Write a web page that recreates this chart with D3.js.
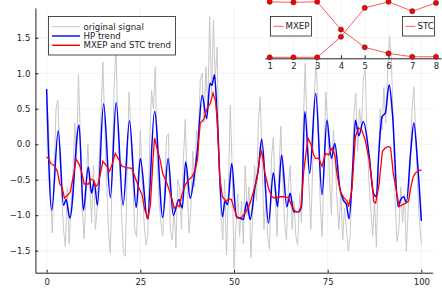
<!DOCTYPE html>
<html>
<head>
<meta charset="utf-8">
<script src="https://cdn.jsdelivr.net/npm/d3@7"></script>
<style>
  body { margin: 0; background: #fff; }
  text { font-family: "DejaVu Sans", sans-serif; }
</style>
</head>
<body>
<script>
// original signal, one value every 0.5 from 0 to 100
let signal = [
  0.6, 0.3, -0.6, -1.25, -0.5, 0.5, 0.62, -0.1, -0.7, -1.2,
  -1.44, -0.6, -1.4, -0.9, -0.4, 0.3, -0.2, 0.98, 0.1, -0.9,
  -1.33, -0.7, 0.0, -0.6, -1.1, -0.3, -1.2, -0.9, -0.2, 0.4,
  1.16, 0.3, -0.5, -1.2, -1.54, -0.4, 0.8, 1.42, 0.2, -0.3,
  -1.0, -1.54, -1.58, -0.3, 0.74, 0.1, -0.5, -1.2, -1.3, -0.6,
  0.2, -0.5, -1.1, -1.42, -1.3, 0.0, 0.76, 0.5, 1.09, -0.2,
  -0.8, -1.1, -1.29, -0.6, 0.1, 0.15, -1.2, -1.35, -0.9, -1.46,
  -0.5, -0.6, -1.2, -0.2, 0.35, -0.6, -1.25, -0.9, -0.1, -0.6,
  0.2, 0.1, 0.9, 1.0, 0.3, 1.09, 0.5, 1.8, 0.7, 1.75,
  0.9, 1.37, -0.3, -1.0, -1.35, -0.5, -1.56, -0.7, 0.55, -0.3,
  -1.75, -1.2, -0.7, -1.3, -0.8, -1.4, -0.3, -1.0, -0.6, -1.6,
  -1.0, -0.3, -0.8, 0.3, 0.67, -0.2, -1.2, -0.8, -1.3, -1.48,
  -0.2, 0.1, -0.7, -1.3, -0.4, 0.25, -0.5, -1.1, -1.35, -0.6,
  -0.3, -1.2, -0.8, -1.3, -1.42, -0.7, -1.1, 0.3, 1.14, 0.2,
  -0.6, -1.2, -0.3, 0.8, 1.19, 0.2, -0.8, -1.3, -0.4, 0.74,
  0.3, -0.5, -1.0, 0.2, -0.2, -0.8, -1.2, -0.7, -1.35, -0.9,
  -1.2, -1.51, -1.3, -0.5, 0.4, 0.72, -0.1, 0.5, 0.2, 0.9,
  1.05, 0.1, -0.5, -0.9, -1.3, -0.8, -1.45, -0.4, 0.5, 0.2,
  0.8, 0.3, 1.0, 1.52, 1.19, 0.3, -0.8, -1.37, -1.2, -0.6,
  -1.1, -0.7, -1.51, -0.9, -0.3, 0.5, 0.81, 0.1, -0.6, -1.1,
  -1.4
];
let signalStep = 0.5;

// HP trend, read at its turning points
let hpTrend = [
  [0, 0.78], [1.35, -0.93], [3.1, 0.19], [4.5, -0.86], [5.2, -0.78], [6.2, -1.04],
  [8.65, 0.27], [9.8, -0.93], [11.1, -0.32], [12.0, -0.69], [12.7, -0.52], [13.55, -0.86],
  [15.2, 0.57], [17.0, -0.75], [18.55, 0.59], [20.4, -0.86], [22.1, 0.33], [23.9, -0.89],
  [25.0, -0.2], [26.9, -1.05], [28.8, 0.46], [31.0, -1.03], [32.4, -0.2], [33.8, -1.0],
  [35.3, -0.78], [36.2, -0.9], [37.1, -0.25], [38.3, -0.76], [39.5, -0.4], [40.2, -0.1],
  [41.5, 0.69], [42.7, 0.36], [43.6, 0.86], [44.1, 0.83], [44.8, 0.98], [45.5, 0.4],
  [46.9, -1.02], [47.6, -0.8], [48.3, -0.85], [49.4, -0.27], [50.6, -1.02], [51.6, -1.04],
  [52.5, -1.06], [53.4, -0.81], [54.3, -1.06], [55.6, -0.6], [56.5, -0.35], [57.4, 0.07],
  [59.2, -1.11], [60.5, -0.4], [61.6, -0.88], [62.7, -0.15], [64.1, -0.88], [65.0, -0.69],
  [65.9, -0.95], [67.2, -0.95], [68.0, -0.88], [68.9, 0.46], [70.2, -0.41], [71.8, 0.72],
  [73.5, -0.71], [74.8, 0.34], [76.0, -0.2], [76.9, 0.01], [78.2, -0.6], [79.1, -0.78],
  [80.0, -0.85], [80.7, -1.05], [81.8, -0.22], [82.4, 0.34], [83.3, 0.12], [84.5, 0.32],
  [86.1, -0.17], [87.2, -0.69], [88.0, -0.74], [88.6, -0.17], [89.5, 0.39], [90.4, 0.44],
  [91.4, 0.84], [92.3, 0.42], [93.8, -0.88], [94.5, -0.78], [95.3, -0.74], [96.0, -0.82],
  [97.2, -0.08], [98.0, 0.3], [99.0, -0.27], [100, -1.08]
];

// MXEP and STC trend
let mixTrend = [
  [0, -0.18], [0.5, -0.2], [1.1, -0.27], [2.2, -0.31], [2.9, -0.39], [3.5, -0.56],
  [4.1, -0.6], [4.75, -0.76], [5.6, -0.72], [6.3, -0.67], [7.3, -0.4], [7.85, -0.21],
  [8.75, -0.29], [9.35, -0.39], [10.0, -0.56], [11.15, -0.56], [11.8, -0.49], [12.5, -0.51],
  [13.1, -0.6], [13.8, -0.55], [14.4, -0.4], [15.0, -0.24], [16.1, -0.31], [16.8, -0.38],
  [17.5, -0.28], [18.3, -0.13], [19.2, -0.21], [20.1, -0.31], [21.4, -0.33], [22.75, -0.34],
  [23.7, -0.48], [24.6, -0.61], [25.5, -0.72], [26.2, -0.93], [27.1, -1.04], [27.7, -0.85],
  [28.4, -0.2], [28.8, 0.09], [29.4, -0.05], [30.2, -0.2], [31.0, -0.42], [31.9, -0.52],
  [32.8, -0.66], [33.6, -0.8], [34.0, -0.9], [34.8, -0.86], [35.4, -0.88], [36.1, -0.71],
  [37.0, -0.57], [37.9, -0.5], [38.8, -0.46], [39.7, -0.36], [40.3, -0.2], [40.6, 0.06],
  [41.0, 0.3], [41.9, 0.35], [42.8, 0.5], [43.7, 0.58], [44.4, 0.72], [45.1, 0.6],
  [45.5, 0.34], [46.2, -0.46], [46.9, -0.74], [47.8, -0.8], [48.7, -0.77], [49.3, -0.78],
  [50.0, -0.9], [50.9, -1.04], [52.0, -1.03], [53.2, -0.95], [54.3, -0.83], [55.2, -0.67],
  [56.1, -0.5], [57.0, -0.15], [57.4, -0.1], [58.2, -0.39], [59.2, -0.62], [60.1, -0.74],
  [61.0, -0.76], [62.3, -0.74], [63.7, -0.74], [64.6, -0.76], [65.5, -0.88], [66.4, -0.95],
  [67.3, -0.95], [67.9, -0.88], [68.6, -0.39], [69.5, -0.01], [69.8, 0.08], [70.5, 0.0],
  [71.3, -0.15], [71.7, -0.2], [72.6, -0.2], [73.5, -0.31], [74.4, -0.13], [75.3, -0.15],
  [76.2, -0.05], [76.9, -0.15], [77.5, -0.43], [78.4, -0.67], [79.4, -0.76], [80.2, -0.8],
  [80.6, -0.88], [81.5, -0.62], [82.4, 0.11], [83.3, 0.23], [84.1, 0.2], [85.0, 0.06],
  [86.0, -0.2], [86.9, -0.57], [87.3, -0.81], [87.8, -0.83], [88.7, -0.57], [89.6, -0.1],
  [90.4, -0.05], [91.3, -0.03], [91.8, -0.05], [92.5, -0.41], [93.3, -0.64], [94.1, -0.88],
  [95.0, -0.85], [95.9, -0.83], [96.6, -0.8], [97.2, -0.6], [97.8, -0.46], [98.5, -0.4],
  [99.4, -0.37], [100, -0.36]
];

// inset: weights per component
let components = [1, 2, 3, 4, 5, 6, 7, 8];
let mxepWeight = [1.0, 0.99, 1.0, 0.5, 0.18, 0.07, 0.01, 0.01];
let stcWeight = [0.0, 0.0, 0.0, 0.37, 0.89, 1.0, 0.83, 0.98];

let xTicks = [0, 25, 50, 75, 100];
let yTicks = [-1.5, -1.0, -0.5, 0.0, 0.5, 1.0, 1.5];
let legendLabels = ["original signal", "HP trend", "MXEP and STC trend"];
let legendColors = ["#c8c8c8", "#0000ff", "#ff0000"];

let width = 442, height = 295;

let svg = d3.select("body")
    .append("svg")
    .attr("width", width).attr("height", height);

let xScale = d3.scaleLinear()
    .domain([-3, 103])
    .range([35.4, 432.6]);

let yScale = d3.scaleLinear()
    .domain([-1.81, 1.92])
    .range([272.7, 8]);

// grid
svg.append("g")
    .selectAll("line")
    .data(xTicks).enter()
    .append("line")
    .attr("x1", d => xScale(d)).attr("x2", d => xScale(d))
    .attr("y1", yScale.range()[0]).attr("y2", yScale.range()[1])
    .attr("stroke", "#000").attr("stroke-opacity", 0.08).attr("stroke-width", 0.7);

svg.append("g")
    .selectAll("line")
    .data(yTicks).enter()
    .append("line")
    .attr("x1", xScale.range()[0]).attr("x2", xScale.range()[1])
    .attr("y1", d => yScale(d)).attr("y2", d => yScale(d))
    .attr("stroke", "#000").attr("stroke-opacity", 0.08).attr("stroke-width", 0.7);

// series
let signalLine = d3.line()
    .x((d, i) => xScale(i * signalStep))
    .y(d => yScale(d));

svg.append("path")
    .datum(signal)
    .attr("d", signalLine)
    .attr("fill", "none")
    .attr("stroke", "#c8c8c8")
    .attr("stroke-width", 1);

let pairLine = d3.line()
    .x(d => xScale(d[0]))
    .y(d => yScale(d[1]));

svg.append("path")
    .datum(hpTrend)
    .attr("d", pairLine.curve(d3.curveMonotoneX))
    .attr("fill", "none")
    .attr("stroke", "#0000ff")
    .attr("stroke-width", 1.5);

svg.append("path")
    .datum(mixTrend)
    .attr("d", pairLine.curve(d3.curveLinear))
    .attr("fill", "none")
    .attr("stroke", "#ff0000")
    .attr("stroke-width", 1.3);

// axes
let xAxis = d3.axisBottom(xScale)
    .tickValues(xTicks)
    .tickSizeInner(-3).tickSizeOuter(0)
    .tickPadding(6);

let yAxis = d3.axisLeft(yScale)
    .tickValues(yTicks)
    .tickSizeInner(-3).tickSizeOuter(0)
    .tickPadding(5)
    .tickFormat(d3.format(".1f"));

svg.append("g")
    .attr("transform", "translate(0," + yScale.range()[0] + ")")
    .call(xAxis);

svg.append("g")
    .attr("transform", "translate(" + xScale.range()[0] + ",0)")
    .call(yAxis);

svg.selectAll(".tick text")
    .attr("font-size", 8.5)
    .attr("font-family", "DejaVu Sans, sans-serif")
    .attr("fill", "#222");
svg.selectAll(".domain").attr("stroke", "#222");
svg.selectAll(".tick line").attr("stroke", "#222");

// legend
let legend = svg.append("g");
legend.append("rect")
    .attr("x", 48.5).attr("y", 16.5)
    .attr("width", 127).attr("height", 38.5)
    .attr("fill", "#fff")
    .attr("stroke", "#222").attr("stroke-width", 0.8);

legend.selectAll("line")
    .data(legendLabels).enter()
    .append("line")
    .attr("x1", 52).attr("x2", 80)
    .attr("y1", (d, i) => 26.7 + i * 9.3)
    .attr("y2", (d, i) => 26.7 + i * 9.3)
    .attr("stroke", (d, i) => legendColors[i])
    .attr("stroke-width", (d, i) => i == 0 ? 1 : 1.4);

legend.selectAll("text")
    .data(legendLabels).enter()
    .append("text")
    .attr("x", 83.5)
    .attr("y", (d, i) => 26.7 + i * 9.3)
    .attr("dy", "0.35em")
    .attr("font-size", 8.6)
    .attr("fill", "#222")
    .text(d => d);

// inset
let inset = svg.append("g");

let xIn = d3.scaleLinear()
    .domain([0.79, 8.21])
    .range([264.7, 441]);

let yIn = d3.scaleLinear()
    .domain([-0.018, 1.03])
    .range([58.3, 0.1]);

inset.selectAll("line.grid")
    .data(components).enter()
    .append("line")
    .attr("class", "grid")
    .attr("x1", d => xIn(d)).attr("x2", d => xIn(d))
    .attr("y1", 0).attr("y2", yIn(-0.018))
    .attr("stroke", "#000").attr("stroke-opacity", 0.05).attr("stroke-width", 0.7);

let xAxisIn = d3.axisBottom(xIn)
    .tickValues(components)
    .tickSizeInner(-3).tickSizeOuter(0)
    .tickPadding(5);

inset.append("g")
    .attr("transform", "translate(0," + yIn(-0.018) + ")")
    .call(xAxisIn)
    .call(g => g.selectAll("text").attr("font-size", 8.5).attr("fill", "#222"))
    .call(g => g.selectAll(".domain, .tick line").attr("stroke", "#222"));

let weightLine = d3.line()
    .x((d, i) => xIn(components[i]))
    .y(d => yIn(d));

[mxepWeight, stcWeight].forEach(function (w) {
    inset.append("path")
        .datum(w)
        .attr("d", weightLine)
        .attr("fill", "none")
        .attr("stroke", "#ff3030")
        .attr("stroke-width", 0.8);
    inset.append("g")
        .selectAll("circle")
        .data(w).enter()
        .append("circle")
        .attr("cx", (d, i) => xIn(components[i]))
        .attr("cy", d => yIn(d))
        .attr("r", 2.6)
        .attr("fill", "#ff0000")
        .attr("stroke", "#333")
        .attr("stroke-width", 0.5);
});

// inset legends
let insetLegends = [
    { label: "MXEP", x: 270.5, w: 41 },
    { label: "STC", x: 402.5, w: 32 }
];
insetLegends.forEach(function (l) {
    let g = inset.append("g");
    g.append("rect")
        .attr("x", l.x).attr("y", 16.5)
        .attr("width", l.w).attr("height", 19.5)
        .attr("fill", "#fff")
        .attr("stroke", "#222").attr("stroke-width", 0.8);
    g.append("line")
        .attr("x1", l.x + 3).attr("x2", l.x + 13)
        .attr("y1", 26.3).attr("y2", 26.3)
        .attr("stroke", "#ff3030").attr("stroke-width", 0.8);
    g.append("text")
        .attr("x", l.x + 15).attr("y", 26.3)
        .attr("dy", "0.35em")
        .attr("font-size", 8.6)
        .attr("fill", "#222")
        .text(l.label);
});
</script>
</body>
</html>
